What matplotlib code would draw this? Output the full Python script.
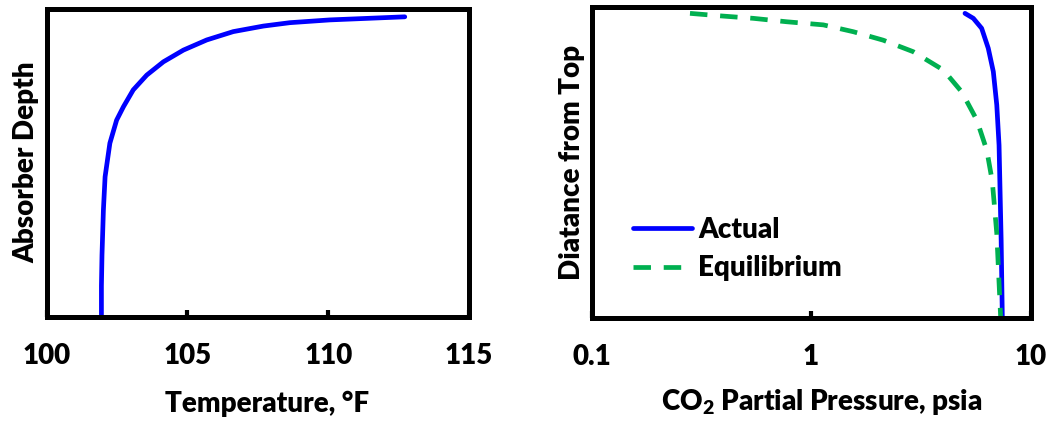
import matplotlib
matplotlib.use("Agg")
import matplotlib.pyplot as plt
import numpy as np

plt.rcParams['font.family'] = ['Lato', 'DejaVu Sans']
plt.rcParams['font.weight'] = 'heavy'
plt.rcParams['mathtext.fontset'] = 'custom'
plt.rcParams['mathtext.bf'] = 'Lato:heavy'
plt.rcParams['mathtext.rm'] = 'Lato:heavy'

# Left panel: temperature profile (depth fraction 0 = bottom, 1 = top)
temp_T = [101.95, 101.95, 101.97, 102.02, 102.08, 102.25, 102.49, 102.73,
          103.08, 103.56, 104.15, 104.86, 105.69, 106.63, 107.70, 108.64,
          110.06, 112.72]
temp_h = [0.0, 0.10, 0.20, 0.346, 0.454, 0.563, 0.638, 0.681,
          0.736, 0.784, 0.827, 0.865, 0.898, 0.925, 0.943, 0.954,
          0.963, 0.973]
temp_ticks = [100, 105, 110, 115]

# Right panel: CO2 partial pressure profiles
act_P = [5.03, 5.49, 5.99, 6.42, 6.77, 7.02, 7.19, 7.29, 7.35, 7.44]
act_h = [0.978, 0.962, 0.930, 0.866, 0.791, 0.684, 0.555, 0.363, 0.25, 0.004]
eq_P = [0.281, 0.385, 0.546, 0.775, 1.138, 1.56, 2.13, 2.92, 4.01, 4.86,
        5.69, 6.32, 6.70, 7.02, 7.31]
eq_h = [0.978, 0.970, 0.962, 0.951, 0.941, 0.919, 0.892, 0.855, 0.796,
        0.726, 0.636, 0.539, 0.438, 0.272, 0.004]
p_ticks = [0.1, 1, 10]
p_ticklabels = ['0.1', '1', '10']

FS = 20
fig = plt.figure(figsize=(10.52, 4.21), dpi=100)
W, H = 1052, 421
ax1 = fig.add_axes([46.5 / W, (H - 316.7) / H, (469 - 46.5) / W, (316.7 - 8.5) / H])
ax2 = fig.add_axes([591.5 / W, (H - 318) / H, (1030.5 - 591.5) / W, (318 - 6.5) / H])

for ax in (ax1, ax2):
    for s in ax.spines.values():
        s.set_linewidth(3.6)
    ax.tick_params(axis='x', direction='in', length=5, width=3, pad=19,
                   labelsize=FS)
    ax.tick_params(axis='y', left=False, labelleft=False)
    ax.set_ylim(0, 1)

ax1.plot(temp_T, temp_h, color='#0000FF', lw=3.4, solid_capstyle='round',
         solid_joinstyle='round')
ax1.set_xlim(100, 115)
ax1.set_xticks(temp_ticks)
ax1.set_xlabel('Temperature, °F', fontsize=FS, fontweight='heavy',
               va='baseline')
ax1.xaxis.set_label_coords(0.521, -0.309)
ax1.set_ylabel('Absorber Depth', fontsize=FS, fontweight='heavy', labelpad=5)

ax2.plot(act_P, act_h, color='#0000FF', lw=3.4, label='Actual',
         solid_capstyle='round', solid_joinstyle='round')
ax2.plot(eq_P, eq_h, color='#00B050', lw=3.4, dashes=(3.7, 2.7), label='Equilibrium')
ax2.set_xscale('log')
ax2.set_xlim(0.1, 10)
ax2.set_xticks(p_ticks)
ax2.set_xticklabels(p_ticklabels)
ax2.minorticks_off()
ax2.set_xlabel(r'CO$_\mathbf{2}$ Partial Pressure, psia', fontsize=FS,
               fontweight='heavy', va='baseline')
ax2.xaxis.set_label_coords(0.525, -0.295)
ax2.set_ylabel('Diatance from Top', fontsize=FS, fontweight='heavy', labelpad=5)

leg = ax2.legend(loc='upper left', bbox_to_anchor=(0.095, 0.325), frameon=False,
                 fontsize=FS, handlelength=2.1, handletextpad=0.25,
                 labelspacing=0.45, borderpad=0, borderaxespad=0)
for t in leg.get_texts():
    t.set_fontweight('heavy')

fig.savefig('out.png', dpi=100)
